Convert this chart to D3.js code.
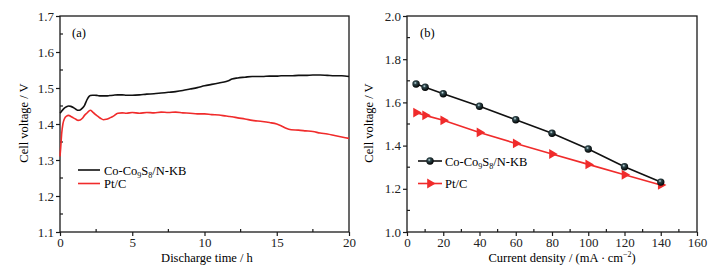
<!DOCTYPE html>
<html>
<head>
<meta charset="utf-8">
<script src="https://cdn.jsdelivr.net/npm/d3@7"></script>
<style>
  body { margin: 0; background: #fff; }
  svg { font-family: "Liberation Serif", "DejaVu Serif", serif; }
</style>
</head>
<body>
<div id="chart"></div>
<script>
// (a) discharge curves, hours vs volts
const timeA = [0, 0.05, 0.12, 0.2, 0.3, 0.45, 0.6, 0.75, 0.92, 1.1, 1.25, 1.4, 1.55, 1.7, 1.85, 2.0, 2.1, 2.25, 2.4, 2.6, 2.8, 3.0, 3.2, 3.45, 3.7, 4.0, 4.3, 4.6, 5.0, 5.5, 6.0, 6.5, 7.0, 7.5, 8.0, 8.5, 9.0, 9.5, 10.0, 10.5, 11.0, 11.5, 11.7, 11.9, 12.3, 12.8, 13.3, 14.0, 14.5, 15.0, 15.3, 15.6, 16.0, 16.5, 17.0, 17.5, 18.0, 18.5, 19.0, 19.5, 20.0];
const coA   = [1.430, 1.432, 1.436, 1.440, 1.444, 1.448, 1.450, 1.449, 1.446, 1.441, 1.438, 1.439, 1.444, 1.452, 1.466, 1.476, 1.479, 1.480, 1.480, 1.479, 1.478, 1.478, 1.478, 1.479, 1.480, 1.481, 1.481, 1.480, 1.480, 1.481, 1.483, 1.484, 1.486, 1.488, 1.490, 1.493, 1.497, 1.501, 1.506, 1.510, 1.514, 1.518, 1.521, 1.525, 1.528, 1.530, 1.532, 1.532, 1.533, 1.533, 1.534, 1.534, 1.534, 1.535, 1.535, 1.536, 1.536, 1.535, 1.534, 1.534, 1.532];
const ptA   = [1.310, 1.335, 1.375, 1.400, 1.414, 1.422, 1.424, 1.421, 1.417, 1.413, 1.410, 1.411, 1.416, 1.424, 1.430, 1.436, 1.438, 1.434, 1.428, 1.422, 1.416, 1.412, 1.413, 1.417, 1.422, 1.430, 1.431, 1.430, 1.432, 1.430, 1.432, 1.431, 1.433, 1.432, 1.433, 1.431, 1.430, 1.428, 1.428, 1.426, 1.425, 1.422, 1.421, 1.420, 1.417, 1.414, 1.410, 1.407, 1.404, 1.400, 1.395, 1.389, 1.384, 1.383, 1.381, 1.379, 1.375, 1.372, 1.368, 1.364, 1.360];

// (b) polarization, mA/cm2 vs volts
const currentB = [5, 10, 20, 40, 60, 80, 100, 120, 140];
const coB = [1.685, 1.670, 1.640, 1.582, 1.520, 1.457, 1.384, 1.302, 1.231];
const ptB = [1.553, 1.540, 1.517, 1.461, 1.410, 1.361, 1.313, 1.265, 1.218];

const black = "#111";
const red = "#f02b2b";

const svg = d3.select("#chart").append("svg")
    .attr("width", 727)
    .attr("height", 275);

const defs = svg.append("defs");
const grad = defs.append("radialGradient")
    .attr("id", "ball")
    .attr("cx", "40%").attr("cy", "35%").attr("r", "65%");
grad.append("stop").attr("offset", "0%").attr("stop-color", "#cfe8ee");
grad.append("stop").attr("offset", "30%").attr("stop-color", "#2e474c");
grad.append("stop").attr("offset", "100%").attr("stop-color", "#000");

function drawFrame(g, x, y, xMajor, xMinor, yMajor, yMinor, yFmt) {
    const [x0, x1] = x.range();
    const [y0, y1] = y.range();
    g.append("rect")
        .attr("x", x0).attr("y", y1)
        .attr("width", x1 - x0).attr("height", y0 - y1)
        .attr("fill", "none").attr("stroke", "#1a1a1a").attr("stroke-width", 1.3);

    const xAxis = g.append("g")
        .attr("transform", `translate(0,${y0})`)
        .call(d3.axisBottom(x).tickValues(xMajor).tickSize(4).tickPadding(2));
    const yAxis = g.append("g")
        .attr("transform", `translate(${x0},0)`)
        .call(d3.axisLeft(y).tickValues(yMajor).tickFormat(yFmt).tickSize(4).tickPadding(2));
    [xAxis, yAxis].forEach(a => {
        a.select(".domain").remove();
        a.selectAll("line").attr("stroke", "#1a1a1a").attr("stroke-width", 1.2);
        a.selectAll("text")
            .attr("font-size", 13)
            .attr("font-family", "Liberation Serif, serif")
            .attr("fill", "#222");
    });

    g.selectAll(null).data(xMinor).join("line")
        .attr("x1", d => x(d)).attr("x2", d => x(d))
        .attr("y1", y0).attr("y2", y0 - 3)
        .attr("stroke", "#1a1a1a").attr("stroke-width", 1.2);
    g.selectAll(null).data(yMinor).join("line")
        .attr("x1", x0).attr("x2", x0 + 3)
        .attr("y1", d => y(d)).attr("y2", d => y(d))
        .attr("stroke", "#1a1a1a").attr("stroke-width", 1.2);
}

function coLabel(t) {
    t.append("tspan").text("Co-Co");
    t.append("tspan").text("9").attr("font-size", 8).attr("dy", 3);
    t.append("tspan").text("S").attr("dy", -3);
    t.append("tspan").text("8").attr("font-size", 8).attr("dy", 3);
    t.append("tspan").text("/N-KB").attr("dy", -3);
}

// ---------- panel (a)
const xA = d3.scaleLinear().domain([0, 20]).range([60, 349]);
const yA = d3.scaleLinear().domain([1.1, 1.7]).range([232, 16]);
const gA = svg.append("g");

drawFrame(gA, xA,  yA,
    [0, 5, 10, 15, 20], [2.5, 7.5, 12.5, 17.5],
    [1.1, 1.2, 1.3, 1.4, 1.5, 1.6, 1.7], [1.15, 1.25, 1.35, 1.45, 1.55, 1.65],
    d3.format(".1f"));

const lineA = d3.line().x(d => xA(d[0])).y(d => yA(d[1])).curve(d3.curveMonotoneX);
gA.append("path")
    .datum(timeA.map((t, i) => [t, ptA[i]]))
    .attr("d", lineA).attr("fill", "none").attr("stroke", red).attr("stroke-width", 1.6);
gA.append("path")
    .datum(timeA.map((t, i) => [t, coA[i]]))
    .attr("d", lineA).attr("fill", "none").attr("stroke", black).attr("stroke-width", 1.6);

gA.append("text").attr("x", 72).attr("y", 37).attr("font-size", 12.5).text("(a)");

gA.append("line").attr("x1", 78).attr("x2", 100).attr("y1", 170).attr("y2", 170)
    .attr("stroke", black).attr("stroke-width", 1.6);
coLabel(gA.append("text").attr("x", 104).attr("y", 174.5).attr("font-size", 12.5));
gA.append("line").attr("x1", 78).attr("x2", 100).attr("y1", 183.5).attr("y2", 183.5)
    .attr("stroke", red).attr("stroke-width", 1.6);
gA.append("text").attr("x", 104).attr("y", 188).attr("font-size", 12.5).text("Pt/C");

gA.append("text").attr("x", 207).attr("y", 262).attr("text-anchor", "middle")
    .attr("font-size", 12.5).text("Discharge time / h");
gA.append("text").attr("transform", "translate(28,123) rotate(-90)")
    .attr("text-anchor", "middle").attr("font-size", 12.5).text("Cell voltage / V");

// ---------- panel (b)
const xB = d3.scaleLinear().domain([0, 160]).range([407, 697]);
const yB = d3.scaleLinear().domain([1.0, 2.0]).range([232, 16]);
const gB = svg.append("g");

drawFrame(gB, xB, yB,
    d3.range(0, 161, 20), d3.range(10, 160, 20),
    [1.0, 1.2, 1.4, 1.6, 1.8, 2.0], [1.1, 1.3, 1.5, 1.7, 1.9],
    d3.format(".1f"));

const lineB = d3.line().x(d => xB(d[0])).y(d => yB(d[1]));
const ptPts = currentB.map((c, i) => [c, ptB[i]]);
const coPts = currentB.map((c, i) => [c, coB[i]]);
const tri = d3.symbol().type(d3.symbolTriangle).size(42);

gB.append("path").datum(ptPts).attr("d", lineB)
    .attr("fill", "none").attr("stroke", red).attr("stroke-width", 1.6);
gB.selectAll(".tri").data(ptPts).join("path")
    .attr("class", "tri")
    .attr("d", tri)
    .attr("transform", d => `translate(${xB(d[0])},${yB(d[1])}) rotate(90)`)
    .attr("fill", red);

gB.append("path").datum(coPts).attr("d", lineB)
    .attr("fill", "none").attr("stroke", black).attr("stroke-width", 1.6);
gB.selectAll(".ball").data(coPts).join("circle")
    .attr("class", "ball")
    .attr("cx", d => xB(d[0])).attr("cy", d => yB(d[1]))
    .attr("r", 3.7)
    .attr("fill", "url(#ball)");

gB.append("text").attr("x", 420).attr("y", 37).attr("font-size", 12.5).text("(b)");

gB.append("line").attr("x1", 418).attr("x2", 442).attr("y1", 161).attr("y2", 161)
    .attr("stroke", black).attr("stroke-width", 1.6);
gB.append("circle").attr("cx", 430).attr("cy", 161).attr("r", 3.7).attr("fill", "url(#ball)");
coLabel(gB.append("text").attr("x", 445).attr("y", 165.5).attr("font-size", 12.5));

gB.append("line").attr("x1", 418).attr("x2", 442).attr("y1", 183.5).attr("y2", 183.5)
    .attr("stroke", red).attr("stroke-width", 1.6);
gB.append("path").attr("d", tri)
    .attr("transform", "translate(430,183.5) rotate(90)").attr("fill", red);
gB.append("text").attr("x", 445).attr("y", 188).attr("font-size", 12.5).text("Pt/C");

const xLab = gB.append("text").attr("x", 562).attr("y", 262)
    .attr("text-anchor", "middle").attr("font-size", 12.5);
xLab.append("tspan").text("Current density / (mA\u2009\u00b7\u2009cm");
xLab.append("tspan").text("\u22122").attr("font-size", 8).attr("dy", -5);
xLab.append("tspan").text(")").attr("dy", 5);

gB.append("text").attr("transform", "translate(373,123) rotate(-90)")
    .attr("text-anchor", "middle").attr("font-size", 12.5).text("Cell voltage / V");
</script>
</body>
</html>
